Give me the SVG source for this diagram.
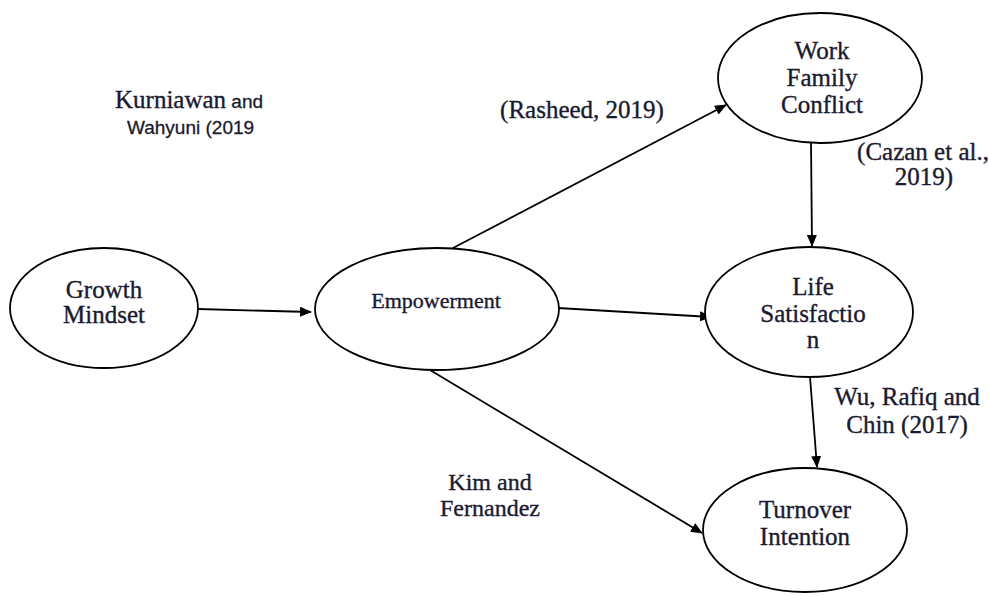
<svg xmlns="http://www.w3.org/2000/svg" width="989" height="596" viewBox="0 0 989 596">
<style>
.node ellipse{fill:#fff;stroke:#000;stroke-width:1.8}
.t{font-family:"Liberation Serif","Times New Roman",serif;font-size:25px;fill:#1a1a30;stroke:#1a1a30;stroke-width:0.35;text-anchor:middle}
.l{font-family:"Liberation Serif","Times New Roman",serif;font-size:25px;fill:#1a1a30;stroke:#1a1a30;stroke-width:0.35}
.s{font-family:"Liberation Sans",Arial,sans-serif;font-size:19px;fill:#1a1a30;stroke:#1a1a30;stroke-width:0.3}
.edge line{stroke:#000;stroke-width:1.8;marker-end:url(#ah)}
</style>
<defs>
<marker id="ah" viewBox="0 0 12 10" refX="11" refY="5" markerWidth="12" markerHeight="10" markerUnits="userSpaceOnUse" orient="auto">
<path d="M0,0 L12,5 L0,10 Z" fill="#000"/>
</marker>
</defs>
<rect width="989" height="596" fill="#fff"/>
<g id="connectors" class="edge">
<line x1="198" y1="309" x2="311" y2="312"/>
<line x1="453" y1="248" x2="726" y2="105"/>
<line x1="558" y1="308" x2="711" y2="317"/>
<line x1="811" y1="142" x2="812" y2="246"/>
<line x1="810" y1="377" x2="817" y2="467"/>
<line x1="430" y1="370" x2="702" y2="533"/>
</g>
<g id="growth" class="node">
<ellipse cx="104" cy="308" rx="94" ry="60"/>
<text class="t" x="104" y="298">Growth</text>
<text class="t" x="104" y="323">Mindset</text>
</g>
<g id="empowerment" class="node">
<ellipse cx="437" cy="309" rx="122" ry="61"/>
<text class="t" x="436" y="308" style="font-size:22px">Empowerment</text>
</g>
<g id="wfc" class="node">
<ellipse cx="820" cy="78" rx="102" ry="65"/>
<text class="t" x="822" y="59">Work</text>
<text class="t" x="822" y="86">Family</text>
<text class="t" x="822" y="113">Conflict</text>
</g>
<g id="life" class="node">
<ellipse cx="809" cy="312" rx="104" ry="65"/>
<text class="t" x="813" y="295">Life</text>
<text class="t" x="813" y="322">Satisfactio</text>
<text class="t" x="813" y="348">n</text>
</g>
<g id="turnover" class="node">
<ellipse cx="805" cy="530" rx="102" ry="62"/>
<text class="t" x="805" y="518">Turnover</text>
<text class="t" x="805" y="545">Intention</text>
</g>
<g id="labels">
<text x="115" y="108"><tspan class="l">Kurniawan</tspan><tspan class="s"> and</tspan></text>
<text class="s" x="127" y="134">Wahyuni (2019</text>
<text class="t" x="582" y="118">(Rasheed, 2019)</text>
<text class="t" x="923" y="160">(Cazan et al.,</text>
<text class="t" x="924" y="185">2019)</text>
<text class="t" x="907" y="405">Wu, Rafiq and</text>
<text class="t" x="907" y="433">Chin (2017)</text>
<text class="t" x="490" y="490" style="font-size:24px">Kim and</text>
<text class="t" x="490" y="516" style="font-size:24px">Fernandez</text>
</g>
</svg>
